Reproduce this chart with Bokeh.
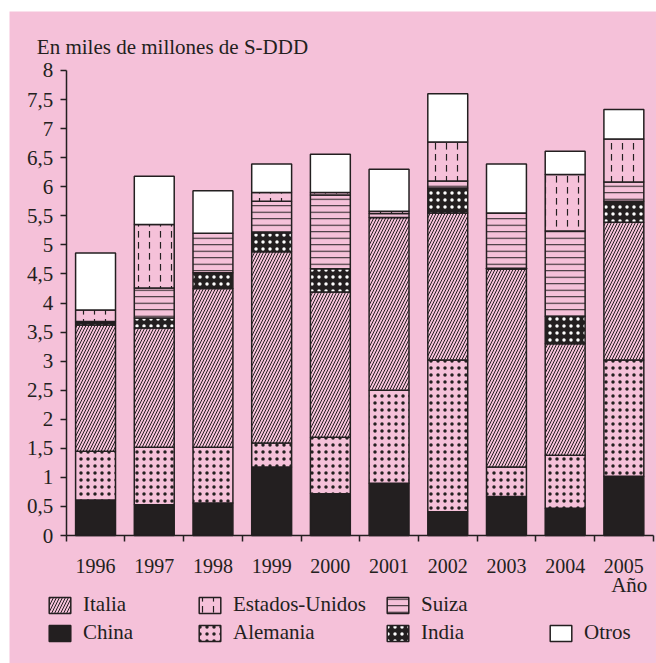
from bokeh.plotting import figure
from bokeh.models import (FixedTicker, CustomJSTickFormatter, Legend, LegendItem, Label,
                          LinearAxis)
from bokeh.embed import file_html
from bokeh.resources import INLINE

years = ["1996", "1997", "1998", "1999", "2000", "2001", "2002", "2003", "2004", "2005"]
china     = [0.61, 0.53, 0.56, 1.18, 0.72, 0.90, 0.41, 0.67, 0.47, 1.02]
alemania  = [0.84, 0.99, 0.96, 0.41, 0.97, 1.60, 2.61, 0.51, 0.91, 2.00]
italia    = [2.17, 2.05, 2.73, 3.29, 2.50, 2.97, 2.53, 3.40, 1.92, 2.37]
india     = [0.06, 0.17, 0.27, 0.33, 0.40, 0.00, 0.43, 0.02, 0.47, 0.36]
suiza     = [0.00, 0.52, 0.68, 0.54, 1.27, 0.07, 0.12, 0.95, 1.47, 0.33]
eeuu      = [0.20, 1.09, 0.00, 0.15, 0.04, 0.04, 0.67, 0.00, 0.97, 0.74]
otros     = [0.98, 0.83, 0.73, 0.49, 0.66, 0.72, 0.83, 0.84, 0.40, 0.51]
y_ticks = [0, 0.5, 1, 1.5, 2, 2.5, 3, 3.5, 4, 4.5, 5, 5.5, 6, 6.5, 7, 7.5, 8]

PINK = "#f5c1d9"
DARK = "#231f20"
FONT = "'Liberation Serif', serif"

p = figure(width=656, height=663, x_range=(-0.966, 10.056), y_range=(-2.202, 9.015),
           output_backend="svg", toolbar_location=None,
           x_axis_location=None, y_axis_location=None,
           min_border_left=9, min_border_right=0, min_border_top=11, min_border_bottom=0)
p.background_fill_color = PINK
p.border_fill_color = "white"
p.outline_line_color = None
p.xgrid.visible = False
p.ygrid.visible = False

data = dict(x=[i + 0.5 for i in range(len(years))], china=china, alemania=alemania,
            italia=italia, india=india, suiza=suiza, eeuu=eeuu, otros=otros)
stackers = ["china", "alemania", "italia", "india", "suiza", "eeuu", "otros"]
fills = [DARK, PINK, PINK, DARK, PINK, PINK, "white"]
hpat = [" ", "dot", "right_diagonal_line", "dot", "horizontal_line", "vertical_dash", " "]
hcol = [DARK, DARK, DARK, "white", DARK, DARK, DARK]
hscale = [6, 7, 6, 7, 6.5, 11, 6]
hweight = [1, 1.6, 1, 1.6, 1, 1.2, 1]

rs = p.vbar_stack(stackers, x="x", width=0.68, source=data,
                  fill_color=fills, line_color=DARK, line_width=1.5,
                  hatch_pattern=hpat, hatch_color=hcol, hatch_scale=hscale,
                  hatch_weight=hweight)
r = dict(zip(stackers, rs))

yax = LinearAxis(fixed_location=0, bounds=(0, 8))
xax = LinearAxis(fixed_location=0, bounds=(0, 10))
for ax in (xax, yax):
    ax.axis_line_color = DARK
    ax.axis_line_width = 1.5
    ax.major_tick_line_color = DARK
    ax.major_tick_line_width = 1.5
    ax.minor_tick_line_color = DARK
    ax.minor_tick_line_width = 1.5
    ax.major_label_text_font = FONT
    ax.major_label_text_color = DARK

yax.ticker = FixedTicker(ticks=y_ticks)
yax.formatter = CustomJSTickFormatter(code="return String(tick).replace('.', ',');")
yax.major_tick_out = 6
yax.major_tick_in = 0
yax.minor_tick_line_color = None
yax.major_label_standoff = 7
yax.major_label_text_font_size = "21px"

xax.ticker = FixedTicker(ticks=[i + 0.5 for i in range(len(years))],
                         minor_ticks=list(range(len(years) + 1)))
xax.formatter = CustomJSTickFormatter(args=dict(labels=years),
                                      code="return labels[Math.floor(tick)];")
xax.major_tick_out = 0
xax.major_tick_in = 0
xax.minor_tick_out = 6
xax.minor_tick_in = 0
xax.major_label_standoff = 17
xax.major_label_text_font_size = "20px"

p.add_layout(yax, "left")
p.add_layout(xax, "below")

p.add_layout(Label(x=-0.5, y=8.40, text="En miles de millones de S-DDD",
                   text_font=FONT, text_font_size="21px", text_color=DARK,
                   text_baseline="middle", text_align="left"))
p.add_layout(Label(x=9.90, y=-0.86, text="Año", text_font=FONT, text_font_size="21px",
                   text_color=DARK, text_baseline="middle", text_align="right"))

cols = [
    ([("Italia", "italia"), ("China", "china")], 37),
    ([("Estados-Unidos", "eeuu"), ("Alemania", "alemania")], 187),
    ([("Suiza", "suiza"), ("India", "india")], 375),
    ([("Otros", "otros")], 538),
]
for items, xoff in cols:
    lg = Legend(items=[LegendItem(label=lab, renderers=[r[k]]) for lab, k in items],
                location=(xoff, 18), padding=0, margin=0, spacing=3,
                glyph_width=27, glyph_height=20, label_standoff=10,
                label_text_font=FONT, label_text_font_size="21px", label_text_color=DARK,
                border_line_color=None, background_fill_alpha=0)
    p.add_layout(lg, "center")

open("out.html", "w").write(file_html(p, INLINE))
